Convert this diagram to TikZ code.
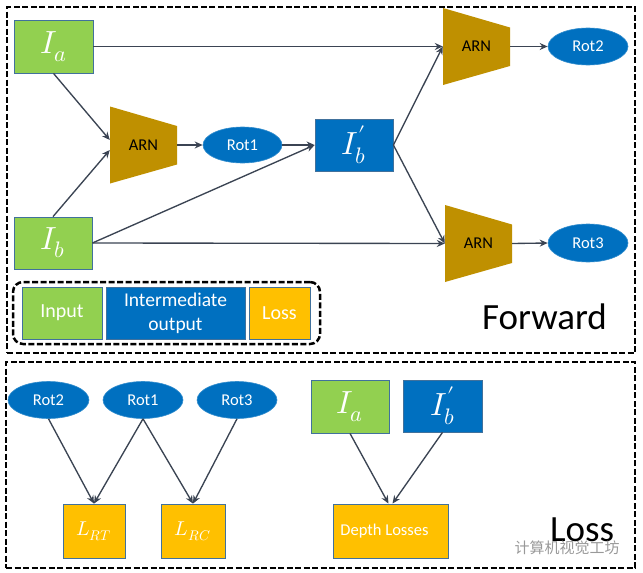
\documentclass[tikz,border=0pt]{standalone}
\usepackage{fontspec}
\usepackage{unicode-math}
\setmainfont{Carlito}
\setmathfont{Latin Modern Math}
\newfontfamily\cjk{Noto Sans CJK SC}
\usetikzlibrary{arrows.meta,shapes.geometric}
\definecolor{ingreen}{HTML}{92D050}
\definecolor{midblue}{HTML}{0070C0}
\definecolor{lossgold}{HTML}{FFC000}
\definecolor{arncol}{HTML}{BF9000}
\definecolor{edgeblue}{HTML}{41719C}
\definecolor{arrowcol}{HTML}{3B4453}
\tikzset{
  fs/.style={font=\fontsize{#1}{#1}\selectfont},
  boxbase/.style={draw=edgeblue, line width=0.8pt, inner sep=0pt, text=white},
  inbox/.style={boxbase, fill=ingreen},
  midbox/.style={boxbase, fill=midblue},
  lossbox/.style={boxbase, fill=lossgold},
  rotnode/.style={ellipse, fill=midblue, draw=midblue!80!white, line width=0.6pt, inner sep=0pt, text=white, fs=16.5},
  arnnode/.style={inner sep=0pt, minimum width=67pt, minimum height=77pt, fs=16.5, text=black,
    path picture={\fill[arncol] (path picture bounding box.north west) -- ([yshift=-19.5pt]path picture bounding box.north east) -- ([yshift=19pt]path picture bounding box.south east) -- (path picture bounding box.south west) -- cycle;}},
  arr/.style={-{Stealth[length=8pt,width=7pt]}, draw=arrowcol, line width=1.35pt},
  frame/.style={draw=black, line width=2.5pt, dash pattern=on 6pt off 2.5pt, inner sep=0pt},
  bigmath/.style={fs=32},
  smallmath/.style={fs=20},
}
\begin{document}
\begin{tikzpicture}[x=1pt,y=-1pt]
\useasboundingbox (0,0) rectangle (643,573);
% frames
\node[frame, minimum width=628pt, minimum height=346pt] (fwdframe) at (321,180) {};
\node[frame, minimum width=629pt, minimum height=206pt] (lossframe) at (320.5,465) {};
% forward part
\node[inbox, minimum width=79pt, minimum height=53pt, bigmath] (ia) at (53.5,46.5) {$I_a$};
\node[inbox, minimum width=78pt, minimum height=52pt, bigmath] (ib) at (53,243) {$I_b$};
\node[arnnode] (arn1) at (143.5,145) {ARN};
\node[rotnode, minimum width=79pt, minimum height=36pt] (rot1) at (242.5,145) {Rot1};
\node[midbox, minimum width=78pt, minimum height=52pt, bigmath] (ibp) at (354,145) {$I_b'$};
\node[arnnode] (arn2) at (476.5,46.5) {ARN};
\node[arnnode] (arn3) at (478.5,243.5) {ARN};
\node[rotnode, minimum width=80pt, minimum height=37pt] (rot2) at (588,46.5) {Rot2};
\node[rotnode, minimum width=80pt, minimum height=38pt] (rot3) at (588,243) {Rot3};
\draw[arr] (ia.east) -- (arn2.west);
\draw[arr] (ib.east) -- (arn3.west);
\draw[arr] (ia.south) -- ([yshift=5pt]arn1.west);
\draw[arr] (ib.north) -- ([yshift=-5pt]arn1.west);
\draw[arr] (ib.east) -- (ibp.west);
\draw[arr] (arn1.east) -- (rot1.west);
\draw[arr] (rot1.east) -- (ibp.west);
\draw[arr] (ibp.east) -- (arn2.west);
\draw[arr] (ibp.east) -- (arn3.west);
\draw[arr] (arn2.east) -- (rot2.west);
\draw[arr] (arn3.east) -- (rot3.west);
% legend
\node[draw=black, line width=2.5pt, dash pattern=on 6pt off 2.5pt, rounded corners=10pt, minimum width=307pt, minimum height=62pt, inner sep=0pt] (legend) at (166.5,313) {};
\node[inbox, minimum width=80pt, minimum height=52pt, fs=20] (leginput) at (62,313) {Input};
\node[midbox, minimum width=139pt, minimum height=52pt, align=center, font=\fontsize{19.5}{24}\selectfont] (legmid) at (175.5,313) {Intermediate\\output};
\node[lossbox, minimum width=61pt, minimum height=52pt, fs=20] (legloss) at (279.5,313) {Loss};
\node[anchor=base west, inner sep=0pt, fs=37] (fwdlabel) at (482,329) {Forward};
% loss part
\node[rotnode, minimum width=81pt, minimum height=37pt] (r2b) at (48.5,400) {Rot2};
\node[rotnode, minimum width=80pt, minimum height=37pt] (r1b) at (143,400) {Rot1};
\node[rotnode, minimum width=80pt, minimum height=37pt] (r3b) at (237,400) {Rot3};
\node[lossbox, minimum width=62pt, minimum height=54pt, smallmath] (lrt) at (94,531) {$L_{RT}$};
\node[lossbox, minimum width=64pt, minimum height=54pt, smallmath] (lrc) at (193,531) {$L_{RC}$};
\node[inbox, minimum width=78pt, minimum height=53pt, bigmath] (ia2) at (350,406.5) {$I_a$};
\node[midbox, minimum width=79pt, minimum height=52pt, bigmath] (ibp2) at (442.5,406) {$I_b'$};
\node[lossbox, minimum width=115pt, minimum height=54pt, fs=16.5] (depth) at (390.5,531) {\hspace*{-12pt}Depth Losses};
\draw[arr] (r2b.south) -- (lrt.north);
\draw[arr] (r1b.south) -- (lrt.north);
\draw[arr] (r1b.south) -- (lrc.north);
\draw[arr] (r3b.south) -- (lrc.north);
\draw[arr] (ia2.south) -- ([xshift=-2pt]depth.north);
\draw[arr] (ibp2.south) -- ([xshift=2pt]depth.north);
\node[anchor=base west, inner sep=0pt, fs=37] (losslabel) at (550,541) {Loss};
\node[inner sep=0pt, text=black!40, font=\cjk\fontsize{15}{15}\selectfont] (watermark) at (567,548) {计算机视觉工坊};
\end{tikzpicture}
\end{document}
